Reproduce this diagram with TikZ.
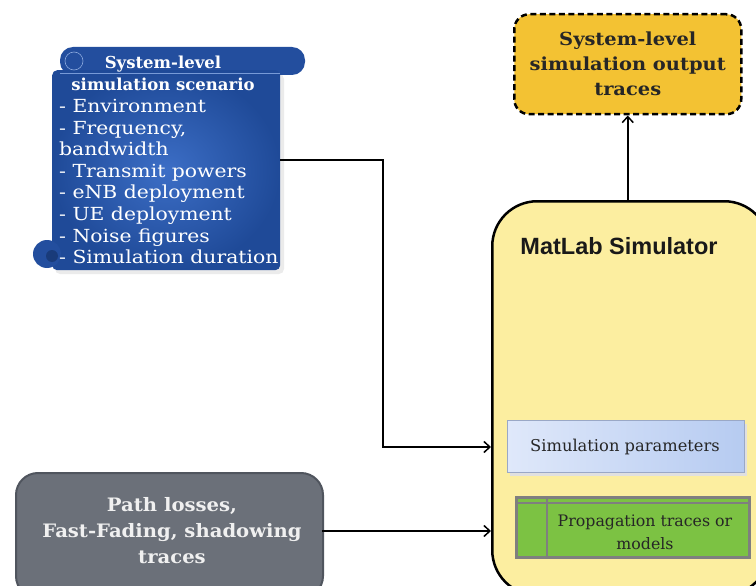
\documentclass[tikz,border=0pt]{standalone}
\usepackage{fontspec}
\setmainfont{DejaVu Serif}
\newfontfamily\sansfam{Liberation Sans}
\usetikzlibrary{arrows.meta}
\definecolor{scrolldark}{HTML}{1F4A98}
\definecolor{scrollmid}{HTML}{3C6EC6}
\definecolor{scrollcurl}{HTML}{234E9E}
\definecolor{outfill}{HTML}{F3C233}
\definecolor{mlfill}{HTML}{FCEEA0}
\definecolor{pathfill}{HTML}{6B7079}
\definecolor{pathdraw}{HTML}{50555E}
\definecolor{paraml}{HTML}{DFE8FA}
\definecolor{paramr}{HTML}{B6CBF1}
\definecolor{paramdraw}{HTML}{9AA8C6}
\definecolor{propfill}{HTML}{7CC243}
\definecolor{propdraw}{HTML}{7F7F7F}
\tikzset{
  conn/.style={line width=1.5pt, -{Straight Barb[length=6pt,width=11pt,line width=1.5pt]}},
  txt/.style={inner sep=0pt, text=white, align=left},
  boxlabel/.style={inner sep=0pt, align=center},
}
\begin{document}
\begin{tikzpicture}[x=1pt,y=-1pt]
\useasboundingbox (0,0) rectangle (756,586);
\begin{scope}
\clip (0,0) rectangle (756,586);
% ---------- scroll ----------
\fill[black!8, rounded corners=5pt] (55,74) rectangle (284,274);
\fill[scrollcurl, rounded corners=13pt] (60,47) rectangle (305,75);
\node[draw=none, inner sep=0pt, minimum width=228pt, minimum height=200pt,
      inner color=scrollmid, outer color=scrolldark, anchor=north west,
      rounded corners=5pt] (scen) at (52,70) {};
\draw[scrollmid!70!white, line width=0.6pt] (60,73) -- (280,73);
\fill[scrollcurl] (47,254) circle (14pt);
\fill[scrolldark!80!black] (52,256) circle (6pt);
\draw[scrollmid!60!white, line width=0.6pt] (74,61) circle (9pt);
\node[txt, font=\bfseries\fontsize{16.5}{21.6}\selectfont, align=center, anchor=north] (scentitle) at (163,56)
  {System-level\\simulation scenario};
\node[txt, font=\addfontfeature{FakeStretch=1.13}\fontsize{18}{21.6}\selectfont, anchor=north west] (scenbody) at (59,99)
  {- Environment\\- Frequency,\\bandwidth\\- Transmit powers\\- eNB deployment\\- UE deployment\\- Noise figures\\- Simulation duration};
% ---------- output box ----------
\node[draw=black, fill=outfill, line width=2.5pt, dash pattern=on 6pt off 3.5pt,
      rounded corners=15pt, minimum width=227pt, minimum height=100pt,
      anchor=north west, inner sep=0pt] (out) at (513,13) {};
\node[boxlabel, font=\bfseries\addfontfeature{FakeStretch=1.08}\fontsize{18}{25}\selectfont, text=black!85] (outlabel) at (out.center)
  {System-level\\simulation output\\traces};
% ---------- MatLab box ----------
\node[draw=black, fill=mlfill, line width=2.5pt, rounded corners=45pt,
      minimum width=277pt, minimum height=394pt, anchor=north west, inner sep=0pt] (ml) at (491,200) {};
\node[inner sep=0pt, font=\sansfam\bfseries\fontsize{23.5}{26}\selectfont, text=black!90] (mltitle) at (619,246) {MatLab Simulator};
% simulation parameters
\fill[black!12] (510,424) rectangle (747,476);
\node[draw=paramdraw, line width=1pt, left color=paraml, right color=paramr,
      minimum width=237pt, minimum height=52pt, anchor=north west, inner sep=0pt] (param) at (507,420) {};
\node[boxlabel, font=\fontsize{16.3}{19}\selectfont, text=black!85] (paramlabel) at (625,447) {Simulation parameters};
% propagation traces
\node[draw=propdraw, fill=propfill, line width=2.5pt, minimum width=233pt, minimum height=60pt,
      anchor=north west, inner sep=0pt] (prop) at (515,496) {};
\draw[propdraw, line width=2pt] (prop.north west) ++(0,7) -- ++(233,0);
\draw[propdraw, line width=2.5pt] (prop.north west) ++(32,0) -- ++(0,60);
\node[boxlabel, font=\fontsize{15.8}{23}\selectfont, text=black!85] (proplabel) at (645,532) {Propagation traces or\\models};
% ---------- path losses ----------
\node[draw=pathdraw, fill=pathfill, line width=2pt, rounded corners=22pt,
      minimum width=307pt, minimum height=125pt, anchor=north west, inner sep=0pt] (path) at (15,472) {};
\node[boxlabel, font=\bfseries\addfontfeature{FakeStretch=1.06}\fontsize{18.5}{26}\selectfont, text=white!94!black] (pathlabel) at (172,531)
  {Path losses,\\Fast-Fading, shadowing\\traces};
\end{scope}
% ---------- connectors ----------
\coordinate (bend1) at (383,160);
\coordinate (bend2) at (383,447);
\draw[conn] (scen.east |- bend1) -- (bend1) -- (bend2) -- (bend2 -| ml.west);
\draw[conn] (322,531) -- (ml.west |- 0,531);
\draw[conn] (out.south |- ml.north) -- (out.south);
\end{tikzpicture}
\end{document}
